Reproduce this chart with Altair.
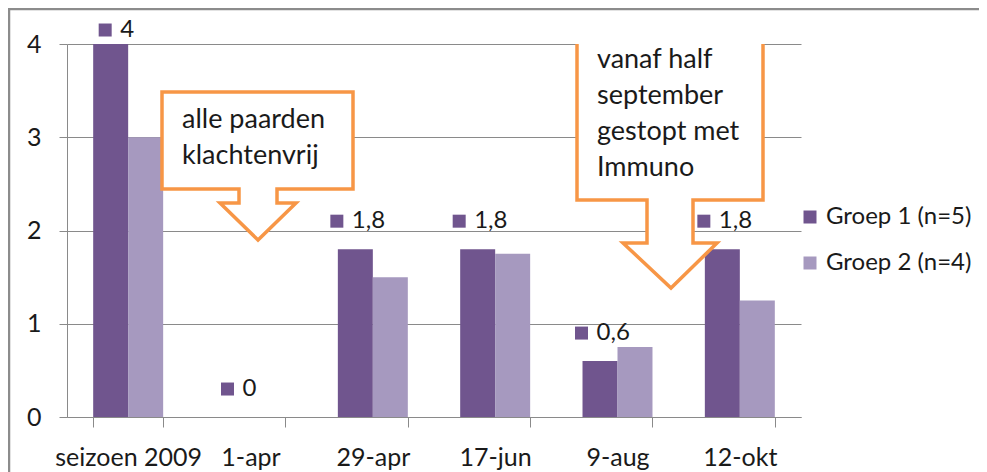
import altair as alt
import pandas as pd

FONT = "Lato"
TXT = "#1a1a1a"
GRID = "#8a8a8a"
ORANGE = "#F79646"

categories = ["seizoen 2009", "1-apr", "29-apr", "17-jun", "9-aug", "12-okt"]
groep1 = [4, 0, 1.8, 1.8, 0.6, 1.8]
groep2 = [3, 0, 1.5, 1.75, 0.75, 1.25]
series = ["Groep 1 (n=5)", "Groep 2 (n=4)"]
colors = ["#70558E", "#A699BF"]
y_ticks = [0, 1, 2, 3, 4]
note1 = ["alle paarden", "klachtenvrij"]
note2 = ["vanaf half", "september", "gestopt met", "Immuno"]

rows = []
for c, a, b in zip(categories, groep1, groep2):
    rows.append({"cat": c, "series": series[0], "value": a})
    rows.append({"cat": c, "series": series[1], "value": b})
df = pd.DataFrame(rows)

lab = pd.DataFrame({"cat": categories, "value": groep1})
lab["label"] = [f"{v:g}".replace(".", ",") for v in groep1]
lab["ylab"] = [v + (0.15 if v >= 4 else 0.3) for v in groep1]
lab["short"] = [len(s) == 1 for s in lab["label"]]

W, H = 734, 373
xscale = alt.Scale(domain=categories, paddingInner=0.428, paddingOuter=0.214)
yscale = alt.Scale(domain=[0, 4], nice=False)

bars = alt.Chart(df).mark_bar().encode(
    x=alt.X("cat:N", scale=xscale, sort=categories, title=None,
            axis=alt.Axis(labelAngle=0, tickBand="extent", tickSize=10, labelPadding=18,
                          domainColor=GRID, tickColor=GRID, labelFont=FONT, labelFontSize=25,
                          labelColor=TXT, grid=False)),
    xOffset=alt.XOffset("series:N", scale=alt.Scale(domain=series, paddingInner=0, paddingOuter=0)),
    y=alt.Y("value:Q", scale=yscale, title=None,
            axis=alt.Axis(values=y_ticks, tickSize=8, labelPadding=18, domainColor=GRID,
                          tickColor=GRID, gridColor=GRID, grid=True, labelFont=FONT,
                          labelFontSize=25, labelColor=TXT, format="d")),
    color=alt.Color("series:N", scale=alt.Scale(domain=series, range=colors),
                    legend=alt.Legend(orient="none", legendX=731, legendY=161, title=None,
                                      symbolType="square", symbolSize=169, symbolStrokeWidth=0,
                                      labelFont=FONT, labelFontSize=24, labelColor=TXT,
                                      rowPadding=22, labelOffset=4, padding=0)),
)


def label_layers(flt, text_off, sq_off):
    base = alt.Chart(lab).transform_filter(flt)
    enc = dict(x=alt.X("cat:N", scale=xscale, sort=categories), y=alt.Y("ylab:Q", scale=yscale))
    txt = base.mark_text(font=FONT, fontSize=24, color=TXT, align="left", baseline="middle").encode(
        text="label:N", xOffset=alt.value(text_off), **enc)
    sq = base.mark_square(size=169, color=colors[0], opacity=1).encode(
        xOffset=alt.value(sq_off), **enc)
    return [sq, txt]


# offsets measured from the left edge of each category's bar group
short_layers = label_layers("datum.short", 27, 12)
long_layers = label_layers("!datum.short", 14, -1)

# decorative callout shapes (pixel coordinates of the plot area)
poly1 = [[95, 48], [286, 48], [286, 145], [210, 145], [210, 159], [229, 159], [191, 196],
         [153, 159], [172, 159], [172, 145], [95, 145], [95, 48]]
poly2 = [[510, -14], [696, -14], [696, 156], [626, 156], [626, 199], [650, 199], [604, 244],
         [556, 199], [580, 199], [580, 156], [510, 156], [510, -14]]
features = [{"type": "Feature", "properties": {}, "geometry": {"type": "Polygon", "coordinates": [p]}}
            for p in (poly1, poly2)]
callouts = alt.Chart(alt.Data(values=features)).mark_geoshape(
    fill="white", stroke=ORANGE, strokeWidth=3.5, strokeJoin="miter"
).project(type="identity", scale=1, translate=[0, 0])

one = pd.DataFrame({"k": [0]})
t1 = alt.Chart(one).mark_text(font=FONT, fontSize=27, color=TXT, align="left",
                              baseline="alphabetic", lineHeight=36).encode(
    x=alt.value(115), y=alt.value(84), text=alt.value(note1))
t2 = alt.Chart(one).mark_text(font=FONT, fontSize=27, color=TXT, align="left",
                              baseline="alphabetic", lineHeight=36).encode(
    x=alt.value(530), y=alt.value(24), text=alt.value(note2))

border = alt.Chart(one).mark_rect(fill=None, stroke="#8c8c8c", strokeWidth=2.5).encode(
    x=alt.value(-58), x2=alt.value(W + 300), y=alt.value(-35), y2=alt.value(H + 200))

chart = alt.layer(border, bars, *short_layers, *long_layers, callouts, t1, t2).properties(
    width=W, height=H,
    padding={"left": 59, "top": 36, "right": 178, "bottom": 55},
    autosize=alt.AutoSizeParams(type="none"),
    background="white",
).configure_view(stroke=None)

chart.save("out.html", embed_options={"renderer": "svg", "actions": False})
